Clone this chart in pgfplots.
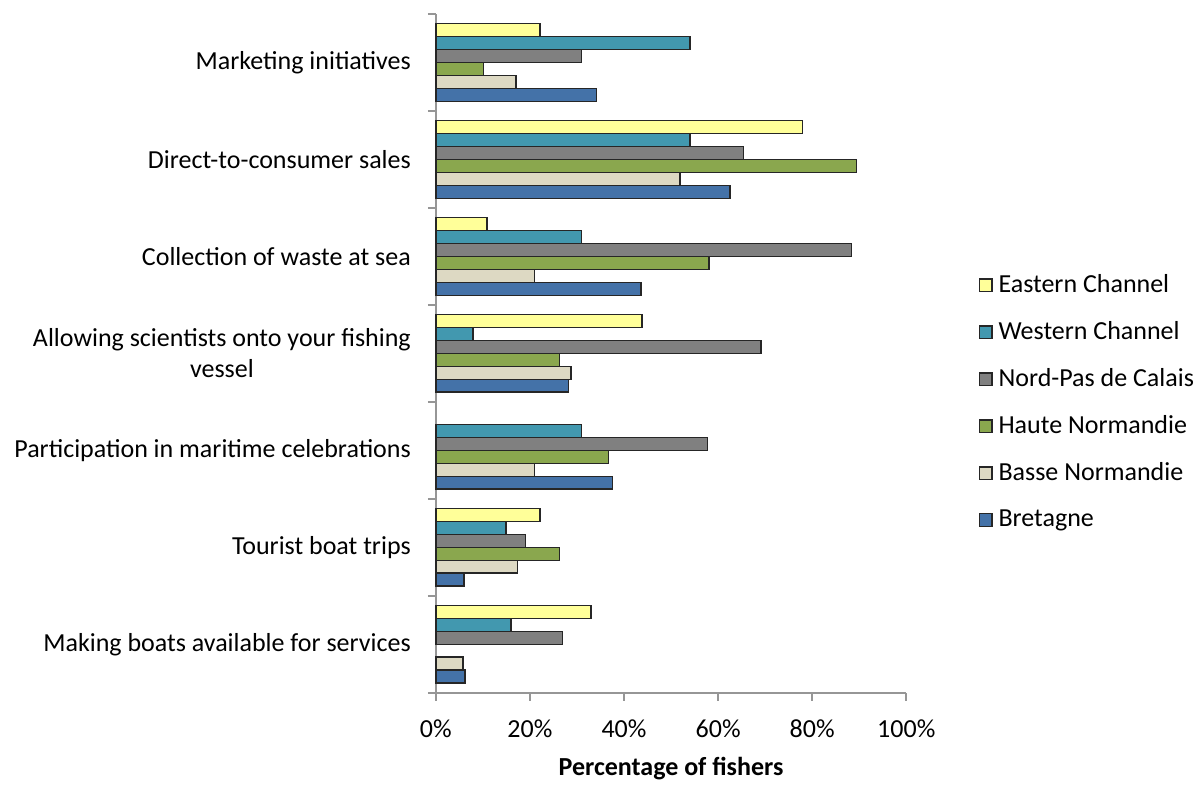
\documentclass[border=0pt]{standalone}
\usepackage{pgfplots}
\pgfplotsset{compat=1.18}
\usepackage{fontspec}
\setmainfont{Carlito}

\definecolor{cEast}{RGB}{255,255,153}
\definecolor{cWest}{RGB}{66,152,175}
\definecolor{cNord}{RGB}{128,128,128}
\definecolor{cHaute}{RGB}{138,167,78}
\definecolor{cBasse}{RGB}{221,217,195}
\definecolor{cBret}{RGB}{68,114,168}
\definecolor{axgray}{RGB}{150,150,150}

\begin{document}
\begin{tikzpicture}
\begin{axis}[
    scale only axis,
    width=235.3pt, height=339.5pt,
    xbar=0pt,
    bar width=0.1335,
    xmin=0, xmax=100,
    ymin=-0.5, ymax=6.5,
    enlargelimits=false,
    clip=false,
    axis x line*=bottom,
    axis y line*=left,
    axis line style={axgray, line width=0.8pt},
    tick align=outside,
    major tick length=4pt,
    minor tick length=4pt,
    xtick={0,20,...,100},
    xticklabel={\pgfmathprintnumber{\tick}\%},
    major x tick style={axgray, line width=0.8pt},
    ytick={0,...,6},
    yticklabels={
        Making boats available for services,
        Tourist boat trips,
        Participation in maritime celebrations,
        {Allowing scientists onto your fishing\\vessel},
        Collection of waste at sea,
        Direct-to-consumer sales,
        Marketing initiatives},
    major y tick style={draw=none},
    minor ytick={-0.5,0.5,...,6.5},
    minor y tick style={axgray, line width=0.8pt},
    yticklabel style={align=center, xshift=-5pt},
    xticklabel style={yshift=-6pt},
    /pgf/number format/assume math mode=true,
    tick label style={font=\fontsize{13}{15.5}\selectfont},
    xlabel={\textbf{Percentage of fishers}},
    xlabel style={font=\fontsize{13}{15.5}\selectfont, yshift=-3pt},
    reverse legend,
    legend cell align=left,
    legend style={draw=none, at={(1.14,0.428)}, anchor=west,
        font=\fontsize{13}{15.5}\selectfont, row sep=9pt,
        /tikz/every odd column/.append style={column sep=1pt}},
    legend image code/.code={\draw[#1, draw=black!85, line width=0.6pt] (0pt,-3.2pt) rectangle (6.4pt,3.2pt);},
    every axis plot/.append style={draw=black!85, line width=0.7pt},
]

% plotted bottom-up inside each group; legend reversed
\addplot[fill=cBret] coordinates {(6.2,0)(6.0,1)(37.5,2)(28.2,3)(43.6,4)(62.5,5)(34.1,6)};
\addlegendentry{Bretagne}

\addplot[fill=cBasse] coordinates {(5.8,0)(17.3,1)(21.0,2)(28.7,3)(21.0,4)(51.9,5)(17.0,6)};
\addlegendentry{Basse Normandie}

\addplot[fill=cHaute] coordinates {(26.3,1)(36.7,2)(26.3,3)(58.1,4)(89.4,5)(10.1,6)};
\addlegendentry{Haute Normandie}

\addplot[fill=cNord] coordinates {(26.9,0)(19.1,1)(57.7,2)(69.1,3)(88.4,4)(65.4,5)(30.9,6)};
\addlegendentry{Nord-Pas de Calais}

\addplot[fill=cWest] coordinates {(16.0,0)(14.9,1)(30.9,2)(7.9,3)(30.9,4)(54.0,5)(54.0,6)};
\addlegendentry{Western Channel}

\addplot[fill=cEast] coordinates {(33.0,0)(22.1,1)(43.8,3)(10.9,4)(78.0,5)(22.1,6)};
\addlegendentry{Eastern Channel}

% page margins as in the reference
\path (rel axis cs:0,1) ++(-218pt,7pt) coordinate (tl);
\path (rel axis cs:0,0) ++(384pt,-42.5pt) coordinate (br);
\path (tl) rectangle (br);
\end{axis}
\end{tikzpicture}
\end{document}
